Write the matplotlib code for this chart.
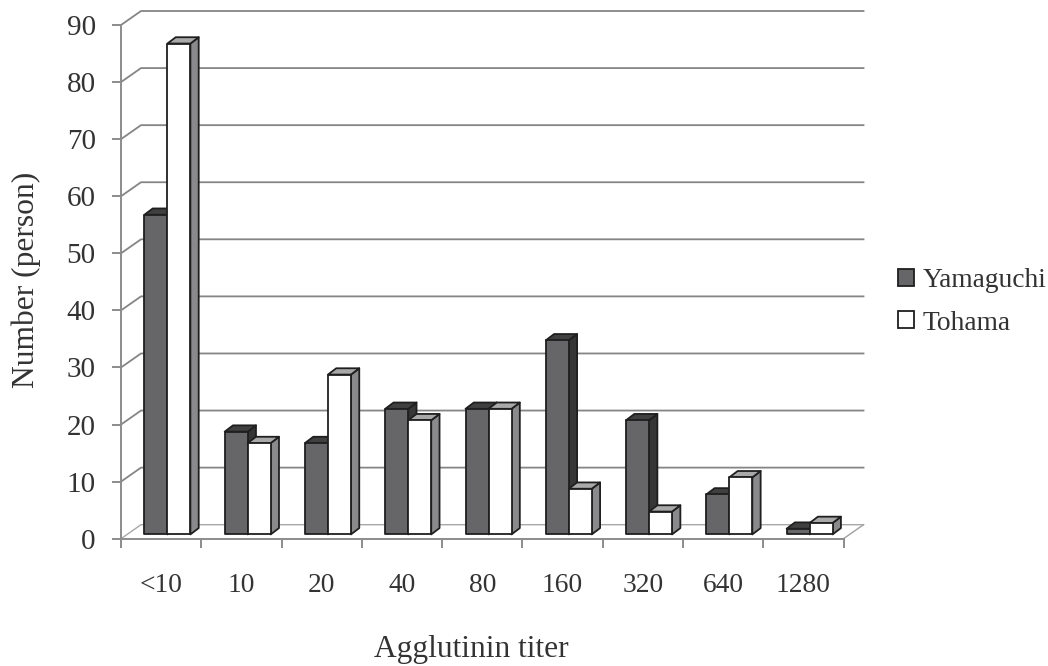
import matplotlib
matplotlib.use("Agg")
import matplotlib.pyplot as plt
from matplotlib.patches import Polygon, Patch

plt.rcParams['font.family'] = ['Liberation Serif', 'DejaVu Serif']

titers = ['<10', '10', '20', '40', '80', '160', '320', '640', '1280']
yamaguchi = [56, 18, 16, 22, 22, 34, 20, 7, 1]
tohama = [86, 16, 28, 20, 22, 8, 4, 10, 2]
y_ticks = list(range(0, 100, 10))

W, H = 1048, 666
fig = plt.figure(figsize=(W / 100, H / 100), dpi=100, facecolor='white')
L, R, T, B = 121, 843.5, 25, 538.7
ax = fig.add_axes([L / W, 1 - B / H, (R - L) / W, (B - T) / H])
n = len(titers)
ax.set_xlim(0, n)
ax.set_ylim(0, 90)
px = n / (R - L)          # data units per horizontal pixel
py = 90 / (B - T)         # data units per vertical pixel
ax.patch.set_visible(False)

GRID = '#858585'
AXC = '#8c8c8c'
TXT = '#333333'
# Depth of the back wall
bx, by = 20 * px, 14 * py
for v in y_ticks:
    c, lw = (GRID, 1.3) if v else ('#a8a8a8', 1.0)
    ax.plot([0, bx, n + bx], [v, v + by, v + by], color=c, lw=lw, zorder=1, clip_on=False)
ax.plot([n, n + bx], [0, by], color='#a0a0a0', lw=1.0, zorder=1, clip_on=False)

for s in ('top', 'right'):
    ax.spines[s].set_visible(False)
for s in ('left', 'bottom'):
    ax.spines[s].set_color(AXC)
    ax.spines[s].set_linewidth(1.4)
    ax.spines[s].set_zorder(2)

ax.set_yticks(y_ticks)
ax.set_xticks(range(n + 1))
ax.set_xticklabels([''] * (n + 1))
ax.set_xticks([i + 0.5 for i in range(n)], titers, minor=True)
ax.tick_params(axis='both', which='major', color=AXC, width=1.4, length=6.2)
ax.tick_params(axis='x', which='minor', length=0, pad=25, labelsize=19.8, labelcolor=TXT)
ax.tick_params(axis='y', which='major', pad=12, labelsize=21, labelcolor=TXT)

# Bars
BASE = 4.3 * py
START = 23.4 * px
BW = 23 * px
DX, DY = 8.3 * px, 6.3 * py
EDGE = '#1f1f1f'
SERIES = [
    (yamaguchi, '#666668', '#404040', '#363636'),
    (tohama, '#ffffff', '#a9a9a9', '#8a8a8c'),
]


def poly(pts, fc, z):
    ax.add_patch(Polygon(pts, closed=True, facecolor=fc, edgecolor=EDGE, lw=1.3,
                         zorder=z, clip_on=False, joinstyle='round'))


z = 3
for i in range(n):
    for k, (vals, front, top, side) in enumerate(SERIES):
        x0 = i + START + k * BW
        x1 = x0 + BW
        y0, y1 = BASE, vals[i] + BASE
        poly([(x1, y0), (x1 + DX, y0 + DY), (x1 + DX, y1 + DY), (x1, y1)], side, z)
        poly([(x0, y1), (x1, y1), (x1 + DX, y1 + DY), (x0 + DX, y1 + DY)], top, z)
        poly([(x0, y0), (x1, y0), (x1, y1), (x0, y1)], front, z)
        z += 1

fig.text(26 / W, 1 - 280 / H, 'Number (person)', rotation=90, ha='center', va='center',
         fontsize=22.7, color=TXT)
fig.text(471 / W, 1 - 649 / H, 'Agglutinin titer', ha='center', va='center',
         fontsize=22.6, color=TXT)

handles = [Patch(facecolor=SERIES[0][1], edgecolor=EDGE, lw=1.3, label='Yamaguchi'),
           Patch(facecolor=SERIES[1][1], edgecolor=EDGE, lw=1.3, label='Tohama')]
fig.legend(handles=handles, loc='center left', bbox_to_anchor=(873 / W, 1 - 302 / H),
           frameon=False, fontsize=19.8, handlelength=0.58, handleheight=0.58,
           handletextpad=0.33, labelspacing=0.62, labelcolor=TXT)

fig.savefig('out.png', dpi=100, facecolor='white')
